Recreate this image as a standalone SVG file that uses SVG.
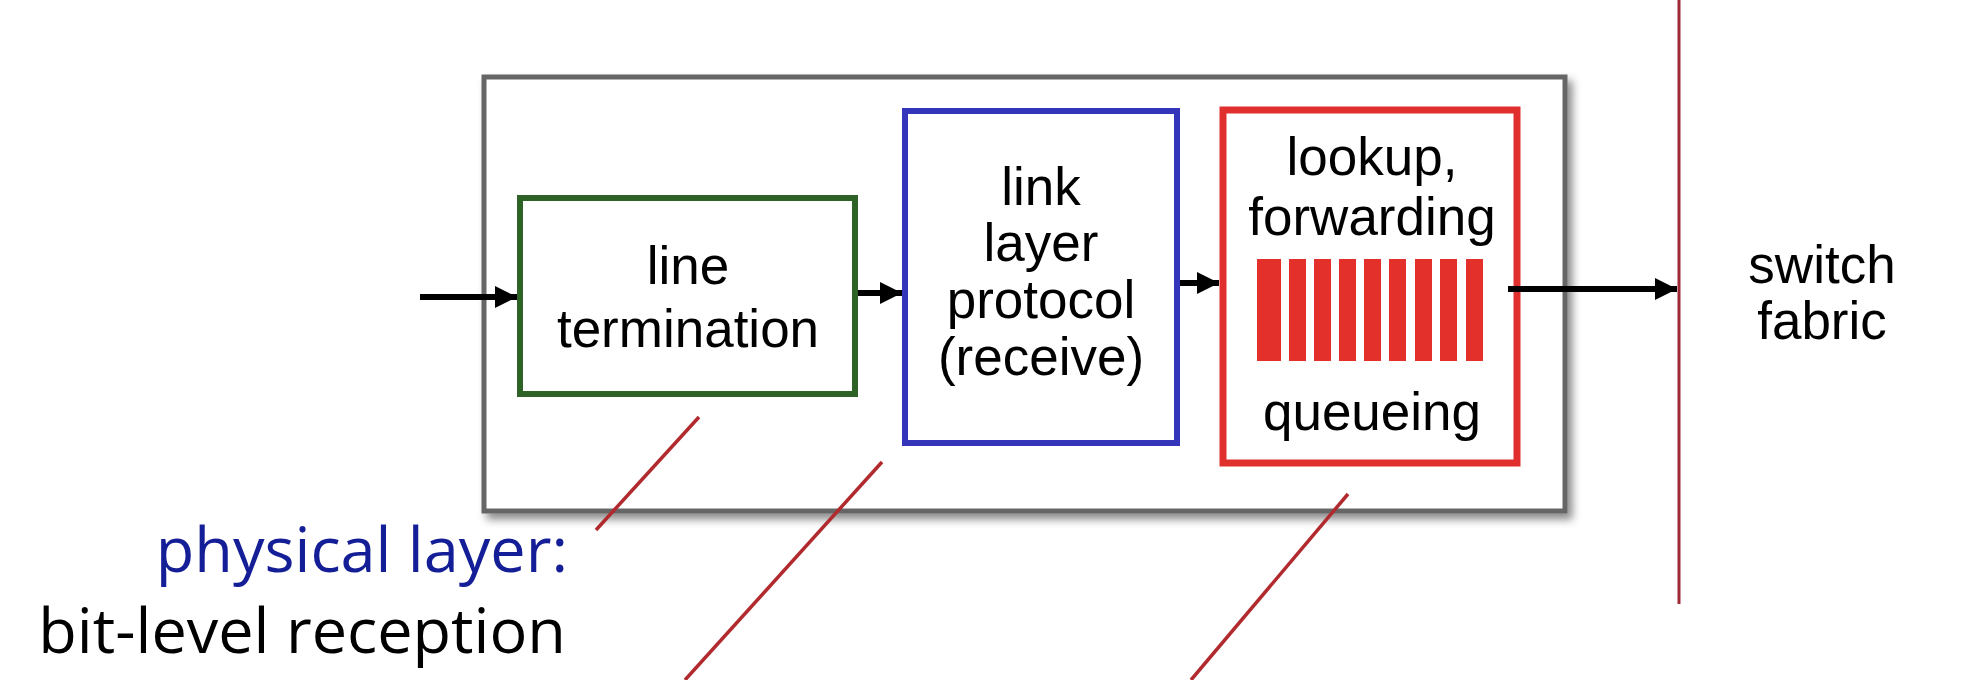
<svg xmlns="http://www.w3.org/2000/svg" width="1970" height="680" viewBox="0 0 1970 680">
<style>
.box{fill:#fff}
.t{font-family:"Liberation Sans",Arial,sans-serif;font-size:53px;fill:#000;text-anchor:middle}
.c{font-family:"Open Sans","Noto Sans",sans-serif;font-size:63px;text-anchor:end}
.arrow{stroke:#000;stroke-width:6;fill:none}
.call{stroke:#B02A2E;stroke-width:3.5;fill:none}
.bar{fill:#E3302B}
</style>
<defs>
<filter id="sh" x="-5%" y="-5%" width="112%" height="120%">
<feDropShadow dx="5" dy="6" stdDeviation="4" flood-color="#000" flood-opacity="0.45"/>
</filter>
<marker id="ah" markerUnits="userSpaceOnUse" markerWidth="22" markerHeight="22" refX="22" refY="11" orient="auto">
<path d="M0,0 L22,11 L0,22 z" fill="#000"/>
</marker>
</defs>
<rect width="1970" height="680" fill="#fff"/>
<g id="linecard">
<rect x="484" y="77" width="1081" height="434" fill="#fff" stroke="#666" stroke-width="5" filter="url(#sh)"/>
</g>
<g id="line-termination">
<rect class="box" x="520" y="198" width="335" height="196" stroke="#2E6226" stroke-width="6"/>
<text class="t" x="688" y="284">line</text>
<text class="t" x="688" y="347">termination</text>
</g>
<g id="link-layer">
<rect class="box" x="905" y="111" width="272" height="332" stroke="#3535BC" stroke-width="6"/>
<text class="t" x="1041" y="205">link</text>
<text class="t" x="1041" y="261">layer</text>
<text class="t" x="1041" y="318">protocol</text>
<text class="t" x="1041" y="375">(receive)</text>
</g>
<g id="lookup">
<rect class="box" x="1223" y="110" width="294" height="353" stroke="#E0302E" stroke-width="7"/>
<text class="t" x="1372" y="175">lookup,</text>
<text class="t" x="1372" y="235">forwarding</text>
<rect class="bar" x="1257" y="259" width="24" height="102"/>
<rect class="bar" x="1289" y="259" width="17" height="102"/>
<rect class="bar" x="1314" y="259" width="17" height="102"/>
<rect class="bar" x="1339" y="259" width="17" height="102"/>
<rect class="bar" x="1364" y="259" width="17" height="102"/>
<rect class="bar" x="1389" y="259" width="17" height="102"/>
<rect class="bar" x="1415" y="259" width="17" height="102"/>
<rect class="bar" x="1440" y="259" width="17" height="102"/>
<rect class="bar" x="1466" y="259" width="17" height="102"/>
<text class="t" x="1372" y="430">queueing</text>
</g>
<g id="switch-fabric">
<line x1="1679" y1="0" x2="1679" y2="604" stroke="#9E2A35" stroke-width="3"/>
<text class="t" x="1822" y="283">switch</text>
<text class="t" x="1822" y="339">fabric</text>
</g>
<g id="physical-layer">
<text class="c" x="568" y="572" fill="#141E96">physical layer:</text>
<text class="c" x="566" y="653" fill="#000">bit-level reception</text>
</g>
<g id="connectors">
<line class="arrow" x1="420" y1="297" x2="517" y2="297" marker-end="url(#ah)"/>
<line class="arrow" x1="858" y1="293" x2="902" y2="293" marker-end="url(#ah)"/>
<line class="arrow" x1="1180" y1="283" x2="1219" y2="283" marker-end="url(#ah)"/>
<line class="arrow" x1="1508" y1="289" x2="1677" y2="289" marker-end="url(#ah)"/>
<line class="call" x1="699" y1="417" x2="596" y2="530"/>
<line class="call" x1="882" y1="462" x2="685" y2="680"/>
<line class="call" x1="1348" y1="494" x2="1191" y2="680"/>
</g>
</svg>
